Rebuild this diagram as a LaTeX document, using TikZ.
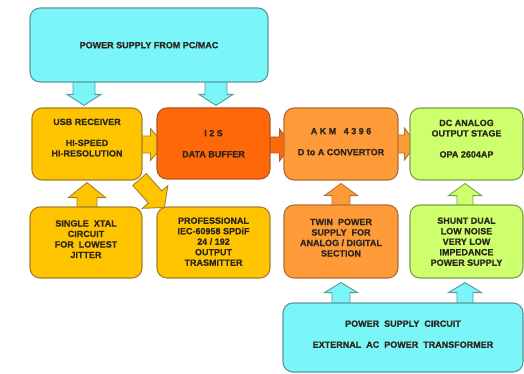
\documentclass[tikz,border=0pt]{standalone}
\usepackage{fontspec}
\setmainfont{Liberation Sans}
\newfontfamily\hd{Liberation Sans}[UprightFont={* Bold}, FakeBold=0.6, AutoFakeBold=0.6]
\usetikzlibrary{calc}
\pgfdeclarelayer{bg}\pgfsetlayers{bg,main}
\definecolor{cyF}{RGB}{122,246,248}\definecolor{cyD}{RGB}{92,150,160}
\definecolor{yeF}{RGB}{255,196,0}\definecolor{yeD}{RGB}{165,128,40}
\definecolor{reF}{RGB}{255,104,8}\definecolor{reD}{RGB}{175,85,40}
\definecolor{orF}{RGB}{255,154,56}\definecolor{orD}{RGB}{175,112,55}
\definecolor{grF}{RGB}{206,255,108}\definecolor{grD}{RGB}{122,160,75}
\definecolor{txt}{RGB}{45,38,30}
\newcommand\tb[2]{\raisebox{\dimexpr#1pt-3.4pt\relax}[0pt][0pt]{\begin{tabular}[c]{@{}c@{}}#2\end{tabular}}}
% block arrow: from, to, shaft half, head half, head length, style
\newcommand\barrow[6]{%
  \coordinate (hb) at ($(#2)!#5!(#1)$);
  \draw[#6,line width=0.9pt,line join=miter]
    ($(#1)!#3!90:(#2)$) -- ($(hb)!#3!90:(#2)$) -- ($(hb)!#4!90:(#2)$) -- (#2)
    -- ($(hb)!#4!-90:(#2)$) -- ($(hb)!#3!-90:(#2)$) -- ($(#1)!#3!-90:(#2)$) -- cycle;}
\tikzset{
  box/.style={draw, rounded corners=10pt, line width=1.1pt, text=txt,
    font=\hd\fontsize{9}{10.5}\selectfont, inner sep=0pt},
  cyb/.style={box, fill=cyF, draw=cyD},
  yeb/.style={box, fill=yeF, draw=yeD},
  reb/.style={box, fill=reF, draw=reD},
  orb/.style={box, fill=orF, draw=orD},
  grb/.style={box, fill=grF, draw=grD},
  cya/.style={fill=cyF, draw=cyD},
  yea/.style={fill=yeF, draw=yeD},
  rea/.style={fill=reF, draw=reD},
  ora/.style={fill=orF, draw=orD},
  gra/.style={fill=grF, draw=grD},
}
\begin{document}
\begin{tikzpicture}[x=1pt,y=-1pt]
\useasboundingbox (0,0) rectangle (524,374);
% boxes
\node[cyb, minimum width=238pt, minimum height=74pt] (top) at (149,45) {\tb{0}{POWER SUPPLY FROM PC/MAC}};
\node[yeb, minimum width=110pt, minimum height=72pt] (usb) at (87,144) {\tb{6.5}{USB RECEIVER\\[10.5pt]HI-SPEED\\HI-RESOLUTION}};
\node[reb, minimum width=113pt, minimum height=71pt] (i2s) at (213.5,143.5) {\tb{0}{I 2 S\\[10.5pt]DATA BUFFER}};
\node[orb, minimum width=114pt, minimum height=72pt] (akm) at (341,144) {\tb{2.5}{A K M\ \ \ 4 3 9 6\\[10.5pt]D to A CONVERTOR}};
\node[grb, minimum width=113pt, minimum height=72pt] (dc) at (466.5,144) {\tb{5.5}{DC ANALOG\\OUTPUT STAGE\\[10.5pt]OPA 2604AP}};
\node[yeb, minimum width=112pt, minimum height=71pt] (xtal) at (86,242.5) {\tb{3.5}{SINGLE\ \ XTAL\\CIRCUIT\\FOR\ \ LOWEST\\JITTER}};
\node[yeb, minimum width=113pt, minimum height=71pt] (prof) at (213.5,242.5) {\tb{1}{PROFESSIONAL\\IEC-60958 SPDiF\\24 / 192\\OUTPUT\\TRASMITTER}};
\node[orb, minimum width=114pt, minimum height=73pt] (twin) at (341,241.5) {\tb{4}{TWIN\ \ POWER\\SUPPLY\ \ FOR\\ANALOG / DIGITAL\\SECTION}};
\node[grb, minimum width=113pt, minimum height=73pt] (shunt) at (466.5,241.5) {\tb{0}{SHUNT DUAL\\LOW NOISE\\VERY LOW\\IMPEDANCE\\POWER SUPPLY}};
\node[cyb, minimum width=240pt, minimum height=69pt] (psu) at (403,337.5) {\tb{3.5}{POWER\ \ SUPPLY\ \ CIRCUIT\\[10.5pt]EXTERNAL\ \ AC\ \ POWER\ \ TRANSFORMER}};
% connectors (behind boxes)
\begin{pgfonlayer}{bg}
  \coordinate (t1) at ($(usb.north)+(-3,-2)$);
  \path (t1 |- top.center) coordinate (s1);
  \barrow{s1}{t1}{11pt}{17pt}{11pt}{cya}
  \coordinate (t2) at ($(i2s.north)+(2.5,-2)$);
  \path (t2 |- top.center) coordinate (s2);
  \barrow{s2}{t2}{11pt}{17pt}{11pt}{cya}
  \coordinate (t3) at ($(usb.south)+(0,2)$);
  \path (t3 |- xtal.center) coordinate (s3);
  \barrow{s3}{t3}{10pt}{18.5pt}{15pt}{yea}
  \coordinate (s4) at ($(usb.center)+(0,0.5)$);
  \coordinate (t4) at ($(i2s.west |- s4)+(8,0)$);
  \barrow{s4}{t4}{8.5pt}{16pt}{14pt}{yea}
  \coordinate (s5) at ($(i2s.center)+(0,1.5)$);
  \coordinate (t5) at ($(akm.west |- s5)+(8,0)$);
  \barrow{s5}{t5}{8pt}{16pt}{12pt}{rea}
  \coordinate (s6) at (akm.center);
  \coordinate (t6) at ($(dc.west |- s6)+(7,0)$);
  \barrow{s6}{t6}{9pt}{16pt}{12pt}{ora}
  \coordinate (t7) at ($(akm.south)+(0,3)$);
  \path (t7 |- twin.center) coordinate (s7);
  \barrow{s7}{t7}{9pt}{16.5pt}{12pt}{ora}
  \coordinate (t8) at ($(dc.south)+(-1.5,3)$);
  \path (t8 |- shunt.center) coordinate (s8);
  \barrow{s8}{t8}{8pt}{16.5pt}{12pt}{gra}
  \coordinate (t9) at ($(twin.south)+(0,4)$);
  \path (t9 |- psu.center) coordinate (s9);
  \barrow{s9}{t9}{9pt}{16.5pt}{10pt}{cya}
  \coordinate (t10) at ($(shunt.south)+(-1.5,4)$);
  \path (t10 |- psu.center) coordinate (s10);
  \barrow{s10}{t10}{8pt}{16.5pt}{10pt}{cya}
\end{pgfonlayer}
% diagonal arrow USB -> PROFESSIONAL
\coordinate (s11) at ($(usb.south east)+(-3,-1)$);
\coordinate (t11) at ($(prof.north west)+(8,1)$);
\barrow{s11}{t11}{9pt}{17pt}{14pt}{yea}
\end{tikzpicture}
\end{document}
